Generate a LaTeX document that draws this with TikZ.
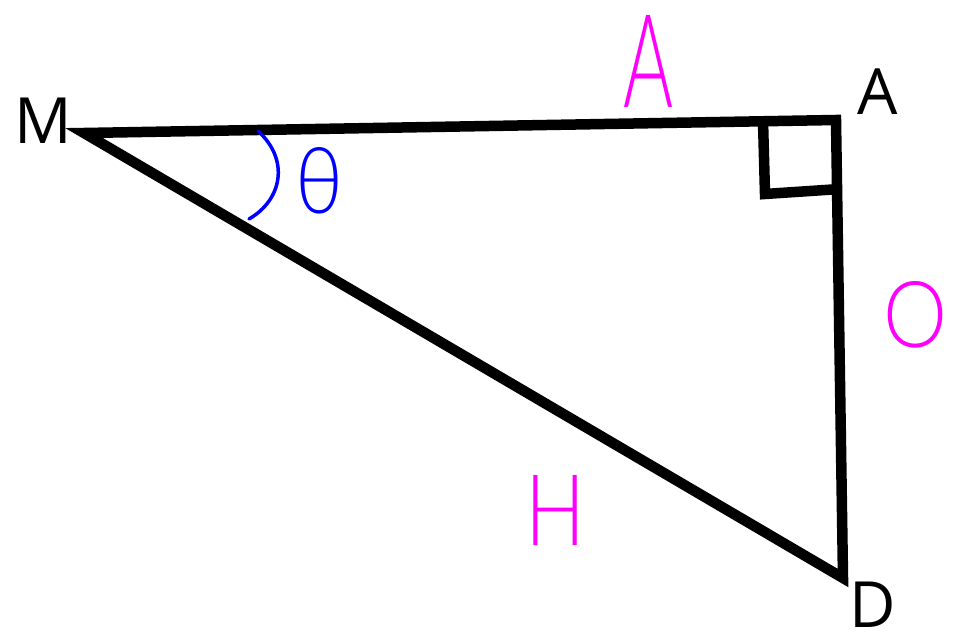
\documentclass[tikz,border=0pt]{standalone}
\usepackage{fontspec}
\setmainfont{Open Sans}
\newfontfamily\handfont{Lato Light}
\usepackage{graphicx}
\definecolor{pinkhand}{RGB}{255,0,255}
\definecolor{bluehand}{RGB}{0,0,255}
\begin{document}
\begin{tikzpicture}[x=1bp,y=-1bp,
  edge/.style={line width=10.5bp,line join=miter,line cap=butt},
  vlabel/.style={font=\fontsize{64}{64}\selectfont,inner sep=0pt},
  pinklabel/.style={text=pinkhand,font=\handfont,inner sep=0pt},
  bluelabel/.style={text=bluehand,font=\handfont,inner sep=0pt}]
\useasboundingbox (0,0) rectangle (953,637);
\fill[white] (0,0) rectangle (953,637);
% vertices
\coordinate (m) at (84,133);
\coordinate (a) at (836,120);
\coordinate (d) at (843,578);
% triangle
\draw[edge] (m) -- (a) -- (d) -- cycle;
% right angle mark
\coordinate (ra1) at (763,121);
\coordinate (ra2) at (765,194);
\coordinate (ra3) at (840,189);
\draw[edge] (ra1) -- (ra2) -- (ra3);
% vertex labels
\node[vlabel] (lm) at (43,121) {M};
\node[vlabel] (la) at (878,92) {A};
\node[vlabel] (ld) at (873,605) {D};
% angle arc
\coordinate (arc1) at (258,131);
\coordinate (arc2) at (249,219);
\draw[bluehand,line width=3.5bp,line cap=round] (arc1) .. controls (290,160) and (282,200) .. (arc2);
% handwritten labels
\node[bluelabel] (theta) at (320,181) {\resizebox{48bp}{66bp}{θ}};
\node[pinklabel] (sa) at (648,61) {\resizebox{50bp}{92bp}{A}};
\node[pinklabel] (so) at (915,315) {\resizebox{64bp}{66bp}{O}};
\node[pinklabel] (sh) at (556,510) {\resizebox{60bp}{70bp}{H}};
\end{tikzpicture}
\end{document}
